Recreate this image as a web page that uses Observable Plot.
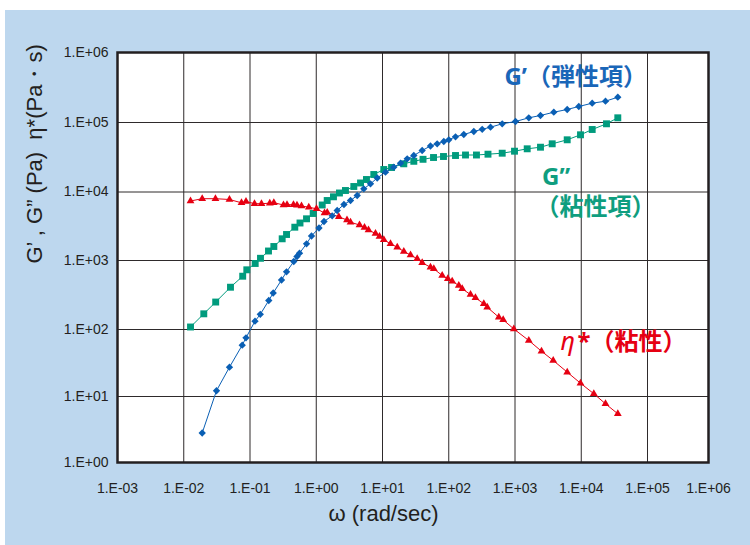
<!DOCTYPE html>
<html><head><meta charset="utf-8">
<script src="https://cdn.jsdelivr.net/npm/d3@7"></script>
<script src="https://cdn.jsdelivr.net/npm/@observablehq/plot@0.6"></script>
<style>
html,body{margin:0;padding:0;background:#fff;}
#chart svg{display:block;}
</style></head><body><div id="chart"></div>
<script>
// ---- data ----
const xTicks = [1e-3, 1e-2, 1e-1, 1e0, 1e1, 1e2, 1e3, 1e4, 1e5, 1e6];
const yTicks = [1e0, 1e1, 1e2, 1e3, 1e4, 1e5, 1e6];

// G' (storage modulus, Pa)
const gpOmega = [0.01899,0.0312,0.0490,0.0763,0.0870,0.119,0.143,0.192,0.224,0.299,0.356,0.458,0.512,0.559,0.713,0.848,1.10,1.31,1.74,2.07,2.62,3.29,4.15,5.22,6.59,8.32,11.1,14.8,18.7,23.6,29.7,39.7,53.0,66.9,84.2,100.2,126.5,168.7,239,320,427,641,1018,1616,2426,3852,6137,9183,14630,23230,35620];
const gpValue = [2.80,12.2,27.4,58.3,75.2,132,166,263,338,522,686,967,1144,1278,1753,2279,2982,3709,4494,5370,6570,7513,8890,11120,13120,15900,19270,22740,25960,30040,33510,39560,45910,49370,53300,56380,62270,67190,74230,79850,85600,95800,103300,116700,125900,140300,153400,169300,188700,201500,229800];

// G'' (loss modulus, Pa)
const gppOmega = [0.01265,0.02007,0.03036,0.05076,0.0776,0.0895,0.1198,0.144,0.1902,0.229,0.306,0.356,0.4746,0.5685,0.713,0.899,1.23,1.463,1.82,2.24,2.76,3.69,4.66,5.73,7.39,10.46,13.7,20.97,29.7,40.9,58.9,83.3,126.5,179,262,391,641,983,1528,2426,3643,6137,9743,14630,24050,35620];
const gppValue = [108.7,168.8,250,410,592,733,905,1077,1376,1601,2074,2397,3063,3527,4063,4855,6460,7513,8510,9670,10510,12000,13480,15130,17860,21070,22520,25450,27650,29540,31360,32420,33510,34070,34070,34990,36160,38650,41840,44110,49370,56380,66530,79300,95800,116700];

// eta* (complex viscosity, Pa·s)
const etaOmega = [0.01265,0.01899,0.0301,0.0490,0.0744,0.0870,0.117,0.149,0.199,0.229,0.320,0.362,0.453,0.512,0.599,0.772,1.009,1.332,1.463,2.19,2.91,3.29,4.50,5.35,6.15,7.84,9.01,10.46,13.2,16.7,20.97,26.5,33.4,39.7,53.0,59.5,79.6,96.8,112.7,141.8,159.6,213,253,338,381,569,663,959,1616,2512,3773,6137,9743,15470,23230,35620];
const etaValue = [7390,7985,7985,7773,6956,7265,6749,6749,6863,6980,6460,6525,6525,6395,6246,6000,5684,4937,5020,4345,3901,3624,3298,3033,2788,2479,2241,2005,1753,1564,1353,1203,1059,926,800,758,606,543,501,434,389,321,288,236,210,151,138,102,68.5,47.4,34.5,23.1,15.8,11.0,7.75,5.47];

// labels
const xLabel = "ω (rad/sec)";
const yLabel = "G’ , G” (Pa)  η*(Pa・s)";
const noteGp = {text: "G’（弾性項）", omega: 694, value: 338000};
const noteGpp1 = {text: "G”", omega: 2556, value: 12820};
const noteGpp2 = {text: "（粘性項）", omega: 2039, value: 4540};
const noteEta1 = {text: "η", omega: 4862, value: 48.6};
const noteEta2 = {text: "*（粘性）", omega: 8778, value: 48.6};

// ---- build ----
const toRows = (xs, ys) => xs.map((w, i) => ({w, v: ys[i]}));
const gp = toRows(gpOmega, gpValue);
const gpp = toRows(gppOmega, gppValue);
const eta = toRows(etaOmega, etaValue);

const fmt = d => {
  const e = Math.round(Math.log10(d));
  return "1.E" + (e < 0 ? "-" : "+") + String(Math.abs(e)).padStart(2, "0");
};

const BLUE = "#0a5fb4", GREEN = "#009b7d", RED = "#e60012", INK = "#231f20";
const labelFont = "'Noto Sans','Noto Sans CJK JP',sans-serif";

const chart = Plot.plot({
  width: 750,
  height: 545,
  marginLeft: 117,
  marginRight: 42,
  marginTop: 52,
  marginBottom: 83,
  style: {
    fontFamily: "'Liberation Sans', Arial, sans-serif",
    background: "linear-gradient(to right, #fff 5px, transparent 5px), linear-gradient(to bottom, #fff 10px, #bdd7ee 10px)",
    color: INK
  },
  x: {type: "log", domain: [1e-3, 1e5, 1e6], range: [117, 647, 708]},
  y: {type: "log", domain: [1, 10, 100, 1e3, 1e4, 1e5, 1e6], range: [462, 396, 329, 260, 191.5, 122, 52]},
  marks: [
    Plot.frame({fill: "white", stroke: null}),
    Plot.ruleX(xTicks.slice(1, -1), {stroke: "#2e2a2b", strokeWidth: 1}),
    Plot.ruleY(yTicks.slice(1, -1), {stroke: "#2e2a2b", strokeWidth: 1}),
    Plot.frame({stroke: INK, strokeWidth: 2.5}),
    Plot.axisX(xTicks, {tickSize: 0, tickPadding: 21, fontSize: 14, tickFormat: fmt, label: null, fill: INK}),
    Plot.axisY(yTicks, {tickSize: 0, tickPadding: 9, fontSize: 14, tickFormat: fmt, label: null, fill: INK}),
    // series G''
    Plot.line(gpp, {x: "w", y: "v", stroke: GREEN, strokeWidth: 1}),
    Plot.dot(gpp, {x: "w", y: "v", symbol: "square", r: 3.9, fill: GREEN, stroke: null}),
    // series eta*
    Plot.line(eta, {x: "w", y: "v", stroke: RED, strokeWidth: 1}),
    Plot.dot(eta, {x: "w", y: "v", symbol: "triangle", r: 2.9, fill: RED, stroke: null}),
    // series G'
    Plot.line(gp, {x: "w", y: "v", stroke: BLUE, strokeWidth: 1}),
    Plot.dot(gp, {x: "w", y: "v", symbol: "diamond2", r: 3.3, fill: BLUE, stroke: null}),
    // annotations
    Plot.text([noteGp], {x: "omega", y: "value", text: "text", textAnchor: "start", lineAnchor: "bottom", fontSize: 24, fontWeight: "bold", fill: "#1a66b8", fontFamily: labelFont}),
    Plot.text([noteGpp1, noteGpp2], {x: "omega", y: "value", text: "text", textAnchor: "start", lineAnchor: "bottom", fontSize: 24, fontWeight: "bold", fill: "#0f9e7f", fontFamily: labelFont}),
    Plot.text([noteEta1], {x: "omega", y: "value", text: "text", textAnchor: "start", lineAnchor: "bottom", fontSize: 25, fontStyle: "italic", fill: RED, fontFamily: labelFont}),
    Plot.text([noteEta2], {x: "omega", y: "value", text: "text", textAnchor: "start", lineAnchor: "bottom", fontSize: 24, fontWeight: "bold", fill: RED, fontFamily: labelFont}),
    // axis titles
    Plot.text([xLabel], {frameAnchor: "bottom", dx: -29.5, dy: 58, fontSize: 22, fill: INK}),
    Plot.text([yLabel], {frameAnchor: "left", rotate: -90, dx: -83, dy: 6, fontSize: 22, fill: INK})
  ]
});
document.getElementById("chart").append(chart);
</script>
</body></html>
